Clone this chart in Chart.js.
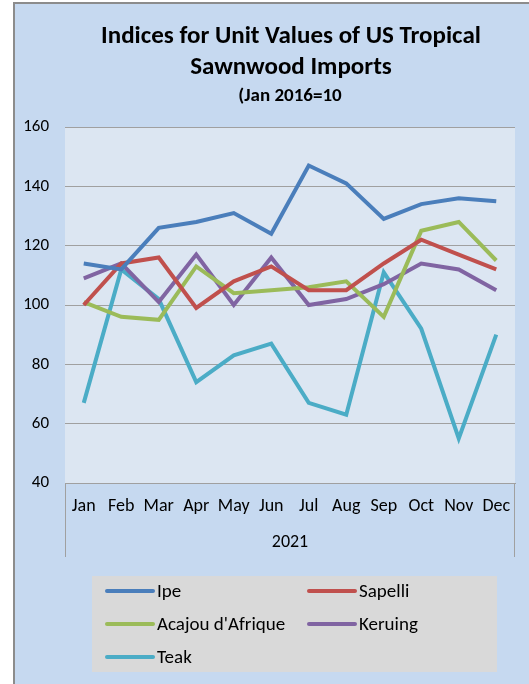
<!DOCTYPE html>
<html>
<head>
<meta charset="utf-8">
<script src="https://cdn.jsdelivr.net/npm/chart.js@4.4.1/dist/chart.umd.min.js"></script>
<style>
  html, body { margin: 0; padding: 0; background: #ffffff; }
  #wrap { width: 529px; height: 684px; position: relative; }
</style>
</head>
<body>
<div id="wrap"><canvas id="chart" width="529" height="684"></canvas></div>
<script>
document.addEventListener('DOMContentLoaded', function () {

    const months = ['Jan', 'Feb', 'Mar', 'Apr', 'May', 'Jun', 'Jul', 'Aug', 'Sep', 'Oct', 'Nov', 'Dec'];
    const ipe     = [114, 112, 126, 128, 131, 124, 147, 141, 129, 134, 136, 135];
    const sapelli = [100, 114, 116,  99, 108, 113, 105, 105, 114, 122, 117, 112];
    const acajou  = [101,  96,  95, 113, 104, 105, 106, 108,  96, 125, 128, 115];
    const keruing = [109, 114, 101, 117, 100, 116, 100, 102, 107, 114, 112, 105];
    const teak    = [ 67, 112, 102,  74,  83,  87,  67,  63, 111,  92,  55,  90];

    const FONT = 'Carlito, Lato, sans-serif';

    function series(label, data, color) {
        return {
            label: label,
            data: data,
            borderColor: color,
            backgroundColor: color,
            borderWidth: 4,
            pointRadius: 0,
            tension: 0
        };
    }

    // backgrounds, frame, title, axis box and legend
    const decor = {
        id: 'decor',
        beforeDraw(chart) {
            const c = chart.ctx, a = chart.chartArea;
            c.save();
            c.fillStyle = '#ffffff';
            c.fillRect(0, 0, chart.width, chart.height);
            c.fillStyle = '#c6d9f0';
            c.fillRect(14, 3, chart.width, chart.height);
            c.strokeStyle = '#8c8c8c';
            c.lineWidth = 2;
            c.beginPath();
            c.moveTo(14, chart.height);
            c.lineTo(14, 3);
            c.lineTo(chart.width, 3);
            c.stroke();
            c.fillStyle = '#dce6f2';
            c.fillRect(a.left, a.top, a.right - a.left, a.bottom - a.top);
            c.restore();
        },
        afterDraw(chart) {
            const c = chart.ctx, a = chart.chartArea;
            c.save();
            // title
            c.fillStyle = '#000000';
            c.textAlign = 'center';
            c.textBaseline = 'middle';
            c.font = 'bold 25px ' + FONT;
            c.fillText('Indices for Unit Values of US Tropical', 291, 37);
            c.fillText('Sawnwood Imports', 291, 68);
            c.font = 'bold 19px ' + FONT;
            c.fillText('(Jan 2016=10', 290, 96);
            // category box sides
            c.strokeStyle = '#a0a0a0';
            c.lineWidth = 1;
            c.beginPath();
            c.moveTo(a.left + 0.5, a.bottom);
            c.lineTo(a.left + 0.5, 557);
            c.moveTo(a.right - 0.5, a.bottom);
            c.lineTo(a.right - 0.5, 557);
            c.stroke();
            // legend
            c.fillStyle = '#d9d9d9';
            c.fillRect(92, 576, 405, 96);
            c.font = '19px ' + FONT;
            c.textAlign = 'left';
            chart.data.datasets.forEach(function (ds, i) {
                const x = i % 2 === 0 ? 107 : 309;
                const y = 591 + Math.floor(i / 2) * 33;
                c.strokeStyle = ds.borderColor;
                c.lineWidth = 4;
                c.lineCap = 'round';
                c.beginPath();
                c.moveTo(x, y);
                c.lineTo(x + 46, y);
                c.stroke();
                c.fillStyle = '#000000';
                c.fillText(ds.label, x + 50, y + 1);
            });
            c.restore();
        }
    };

    new Chart(document.getElementById('chart'), {
        type: 'line',
        data: {
            labels: months,
            datasets: [
                series('Ipe', ipe, '#4a7ebb'),
                series('Sapelli', sapelli, '#c0504d'),
                series("Acajou d'Afrique", acajou, '#9bbb59'),
                series('Keruing', keruing, '#8064a2'),
                series('Teak', teak, '#4bacc6')
            ]
        },
        options: {
            responsive: false,
            animation: false,
            layout: {
                padding: { left: 14, right: 14, top: 127, bottom: 127 }
            },
            plugins: {
                legend: { display: false },
                title: { display: false },
                tooltip: { enabled: false }
            },
            scales: {
                x: {
                    offset: true,
                    grid: { display: false, drawTicks: false },
                    border: { display: true, color: '#a0a0a0', width: 1 },
                    ticks: { color: '#000000', font: { family: FONT, size: 18 }, padding: 13, maxRotation: 0, autoSkip: false },
                    title: { display: true, text: '2021', color: '#000000', font: { family: FONT, size: 18 }, padding: { top: 10 } },
                    afterFit(scale) { scale.height = 74; }
                },
                y: {
                    min: 40,
                    max: 160,
                    grid: { color: '#a0a0a0', lineWidth: 1, drawTicks: false },
                    border: { display: false },
                    ticks: { stepSize: 20, color: '#000000', font: { family: FONT, size: 17 }, padding: 16 },
                    afterFit(scale) { scale.width = 51; }
                }
            }
        },
        plugins: [decor]
    });
});
</script>
</body>
</html>
